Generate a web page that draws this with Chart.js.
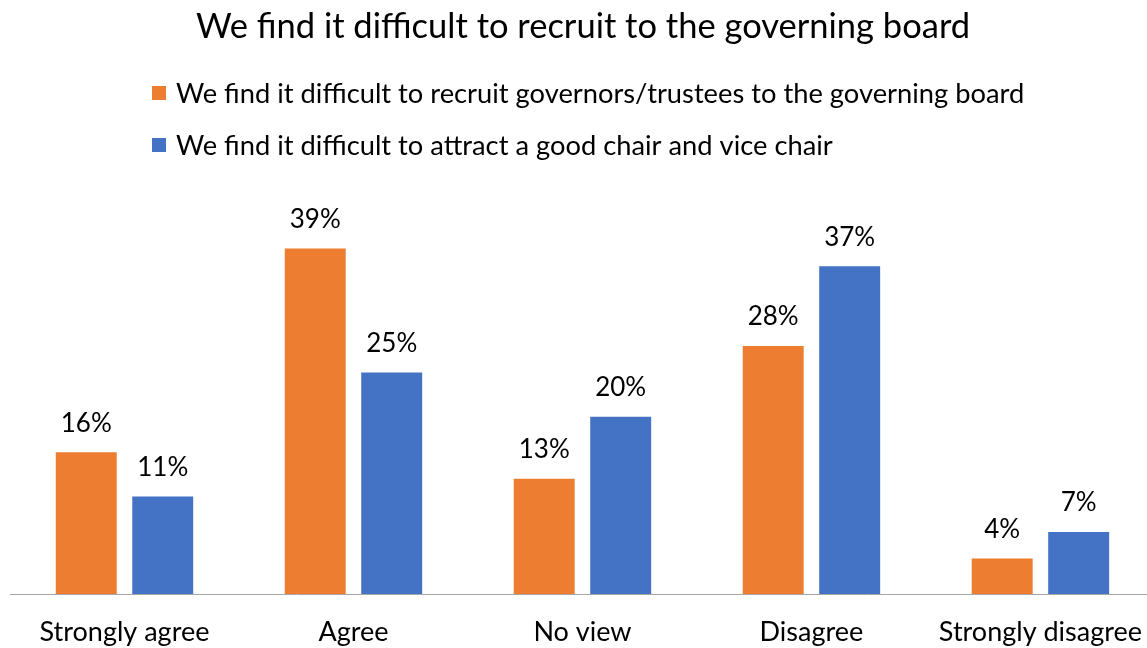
<!DOCTYPE html>
<html>
<head>
<meta charset="utf-8">
<script src="https://cdn.jsdelivr.net/npm/chart.js@4"></script>
<style>
  html, body { margin: 0; padding: 0; background: #fff; }
  #wrap { width: 1147px; height: 648px; overflow: hidden; position: relative; }
  #boardChart { position: absolute; left: -9px; top: 0; }
</style>
</head>
<body>
<div id="wrap"><canvas id="boardChart" width="1165" height="648"></canvas></div>
<script>
const categories = ['Strongly agree', 'Agree', 'No view', 'Disagree', 'Strongly disagree'];
const seriesNames = [
    'We find it difficult to recruit governors/trustees to the governing board',
    'We find it difficult to attract a good chair and vice chair'
];
const recruitValues = [16, 39, 13, 28, 4];
const chairValues = [11, 25, 20, 37, 7];
const seriesColors = ['#ED7D31', '#4472C4'];

const FONT = 'Lato, "Liberation Sans", sans-serif';
// canvas is shifted left inside the wrapper; plot runs past the right edge
const SHIFT = 9;

// value labels above each bar
const barLabels = {
    id: 'barLabels',
    afterDatasetsDraw(chart) {
        const ctx = chart.ctx;
        ctx.save();
        ctx.font = '26px ' + FONT;
        ctx.fillStyle = '#000';
        ctx.textAlign = 'center';
        ctx.textBaseline = 'middle';
        chart.data.datasets.forEach((ds, i) => {
            chart.getDatasetMeta(i).data.forEach((bar, j) => {
                ctx.fillText(ds.data[j] + '%', bar.x, bar.y - 29);
            });
        });
        ctx.restore();
    }
};

// stacked legend, one series per row, left aligned
const stackedLegend = {
    id: 'stackedLegend',
    afterDraw(chart) {
        const ctx = chart.ctx;
        ctx.save();
        ctx.font = '27.3px ' + FONT;
        ctx.textAlign = 'left';
        ctx.textBaseline = 'middle';
        chart.data.datasets.forEach((ds, i) => {
            const y = 93 + i * 52;
            ctx.fillStyle = ds.backgroundColor;
            ctx.fillRect(152 + SHIFT, y - 7, 14, 14);
            ctx.fillStyle = '#000';
            ctx.fillText(ds.label, 176 + SHIFT, y + 1);
        });
        ctx.restore();
    }
};

new Chart(document.getElementById('boardChart'), {
    type: 'bar',
    data: {
        labels: categories,
        datasets: [{
            label: seriesNames[0],
            data: recruitValues,
            backgroundColor: seriesColors[0]
        }, {
            label: seriesNames[1],
            data: chairValues,
            backgroundColor: seriesColors[1]
        }]
    },
    options: {
        responsive: false,
        devicePixelRatio: 1,
        animation: false,
        categoryPercentage: 0.668,
        barPercentage: 0.797,
        layout: { padding: { left: 10 + SHIFT, right: 0, top: 0, bottom: 0 } },
        plugins: {
            legend: { display: false },
            tooltip: { enabled: false },
            title: {
                display: true,
                text: 'We find it difficult to recruit to the governing board',
                color: '#000',
                font: { family: FONT, size: 34.5, weight: 'normal' },
                padding: { top: 6, bottom: 148 }
            }
        },
        scales: {
            x: {
                grid: { display: false },
                border: { display: true, color: '#a6a6a6', width: 1 },
                ticks: {
                    color: '#000',
                    font: { family: FONT, size: 27 },
                    padding: 14
                },
                afterFit(scale) { scale.height = 54; }
            },
            y: {
                display: false,
                min: 0,
                max: 45
            }
        }
    },
    plugins: [barLabels, stackedLegend]
});
</script>
</body>
</html>
